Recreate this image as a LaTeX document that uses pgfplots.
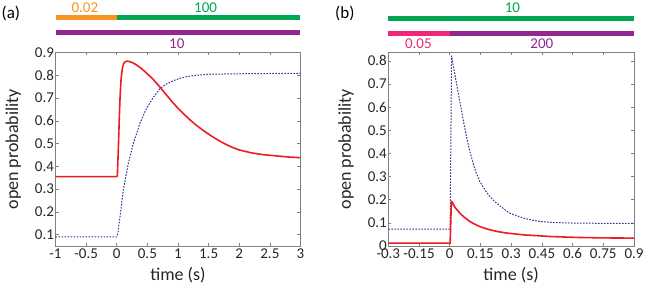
\documentclass[border=0pt]{standalone}
\usepackage{fontspec}
\setmainfont{Carlito}
\usepackage{pgfplots}
\pgfplotsset{compat=1.18}
\definecolor{myred}{RGB}{237,28,36}
\definecolor{myblue}{RGB}{46,49,146}
\definecolor{myorange}{RGB}{247,148,29}
\definecolor{mygreen}{RGB}{0,166,81}
\definecolor{mypurple}{RGB}{146,39,143}
\definecolor{mypink}{RGB}{237,40,120}
\pgfplotsset{
  myaxis/.style={
    scale only axis, width=245pt, height=193.5pt,
    axis line style={gray, line width=0.6pt},
    tick style={gray, line width=0.5pt},
    major tick length=3pt,
    tick align=inside,
    xtick pos=both, ytick pos=both,
    ticklabel style={font=\fontsize{15}{15}\selectfont, text=black!85},
    yticklabel style={xshift=2pt},
    xticklabel style={yshift=1pt},
    label style={font=\fontsize{18}{18}\selectfont, text=black!85},
    /pgf/number format/assume math mode=true,
    clip=false,
    xlabel={time (s)}, ylabel={open probability},
    xlabel style={at={(axis description cs:0.5,-0.176)}, anchor=base},
    ylabel style={at={(axis description cs:-0.172,0.5)}, anchor=center},
  },
  redline/.style={myred, line width=1.6pt},
  blueline/.style={myblue, line width=1pt, dash pattern=on 1.6pt off 1.4pt},
}
\begin{document}
\begin{tikzpicture}
\useasboundingbox (0pt,0pt) rectangle (664pt,286pt);
% ---------------- panel (a)
\begin{axis}[myaxis, at={(55.5pt,40pt)}, anchor=south west,
  xmin=-1, xmax=3, ymin=0.05, ymax=0.9,
  xtick={-1,-0.5,0,0.5,1,1.5,2,2.5,3},
  ytick={0.1,0.2,0.3,0.4,0.5,0.6,0.7,0.8,0.9}]
\addplot[blueline] coordinates {
(-1,0.09) (0,0.09) (0.02,0.11) (0.054,0.18) (0.108,0.297) (0.19,0.414) (0.27,0.50)
(0.378,0.589) (0.487,0.655) (0.595,0.702) (0.703,0.74) (0.8,0.76) (0.92,0.776)
(1.04,0.787) (1.16,0.795) (1.3,0.8) (1.5,0.804) (1.8,0.806) (2.2,0.807) (2.6,0.808) (3,0.808)};
\addplot[redline] coordinates {
(-1,0.355) (0,0.355) (0.01,0.36) (0.025,0.47) (0.04,0.6) (0.055,0.71) (0.07,0.78)
(0.09,0.828) (0.11,0.85) (0.135,0.859) (0.165,0.862) (0.2,0.861) (0.26,0.855)
(0.325,0.845) (0.4,0.83) (0.487,0.81) (0.6,0.78) (0.7,0.75) (0.8,0.717) (0.9,0.685)
(1.0,0.655) (1.1,0.628) (1.2,0.603) (1.3,0.58) (1.4,0.56) (1.5,0.541) (1.6,0.524)
(1.7,0.508) (1.8,0.494) (1.9,0.482) (2.0,0.472) (2.2,0.459) (2.4,0.451) (2.6,0.446)
(2.8,0.441) (3.0,0.438)};
\draw[myorange, line width=5pt] (axis cs:-1,1.0516) -- (axis cs:0,1.0516);
\draw[mygreen, line width=5pt] (axis cs:0,1.0516) -- (axis cs:3,1.0516);
\draw[mypurple, line width=5pt] (axis cs:-1,0.9857) -- (axis cs:3,0.9857);
\node[myorange, font=\fontsize{15}{15}\selectfont] at (axis cs:-0.52,1.0955) {0.02};
\node[mygreen, font=\fontsize{15}{15}\selectfont] at (axis cs:1.45,1.0955) {100};
\node[mypurple, font=\fontsize{15}{15}\selectfont] at (axis cs:0.98,0.937) {10};
\node[font=\fontsize{17}{17}\selectfont] at (axis description cs:-0.182,1.204) {(a)};
\end{axis}
% ---------------- panel (b)
\begin{axis}[myaxis, at={(388.3pt,40pt)}, anchor=south west, width=245.7pt,
  xmin=-0.3, xmax=0.9, ymin=0, ymax=0.836,
  xtick={-0.3,-0.15,0,0.15,0.3,0.45,0.6,0.75,0.9},
  ytick={0,0.1,0.2,0.3,0.4,0.5,0.6,0.7,0.8}]
\addplot[blueline] coordinates {
(-0.3,0.073) (0,0.073) (0.002,0.073) (0.009,0.822) (0.02,0.765) (0.033,0.704)
(0.045,0.645) (0.057,0.588) (0.07,0.525) (0.082,0.473) (0.098,0.41) (0.114,0.358)
(0.13,0.315) (0.147,0.279) (0.17,0.245) (0.196,0.214) (0.22,0.192) (0.245,0.174)
(0.27,0.156) (0.294,0.142) (0.32,0.133) (0.359,0.121) (0.4,0.112) (0.44,0.106)
(0.49,0.102) (0.6,0.099) (0.75,0.098) (0.9,0.098)};
\addplot[redline] coordinates {
(-0.3,0.0125) (0,0.0125) (0.002,0.0125) (0.008,0.192) (0.012,0.19) (0.025,0.168)
(0.049,0.142) (0.07,0.125) (0.098,0.106) (0.12,0.095) (0.147,0.084) (0.17,0.077)
(0.196,0.070) (0.23,0.063) (0.277,0.056) (0.32,0.052) (0.36,0.048) (0.42,0.045)
(0.49,0.041) (0.62,0.037) (0.75,0.035) (0.9,0.034)};
\draw[mygreen, line width=5pt] (axis cs:-0.3,0.985) -- (axis cs:0.9,0.985);
\draw[mypink, line width=5pt] (axis cs:-0.3,0.920) -- (axis cs:0,0.920);
\draw[mypurple, line width=5pt] (axis cs:0,0.920) -- (axis cs:0.9,0.920);
\node[mygreen, font=\fontsize{15}{15}\selectfont] at (axis cs:0.306,1.028) {10};
\node[mypink, font=\fontsize{15}{15}\selectfont] at (axis cs:-0.153,0.873) {0.05};
\node[mypurple, font=\fontsize{15}{15}\selectfont] at (axis cs:0.45,0.873) {200};
\node[font=\fontsize{17}{17}\selectfont] at (axis description cs:-0.177,1.204) {(b)};
\end{axis}
\end{tikzpicture}
\end{document}
